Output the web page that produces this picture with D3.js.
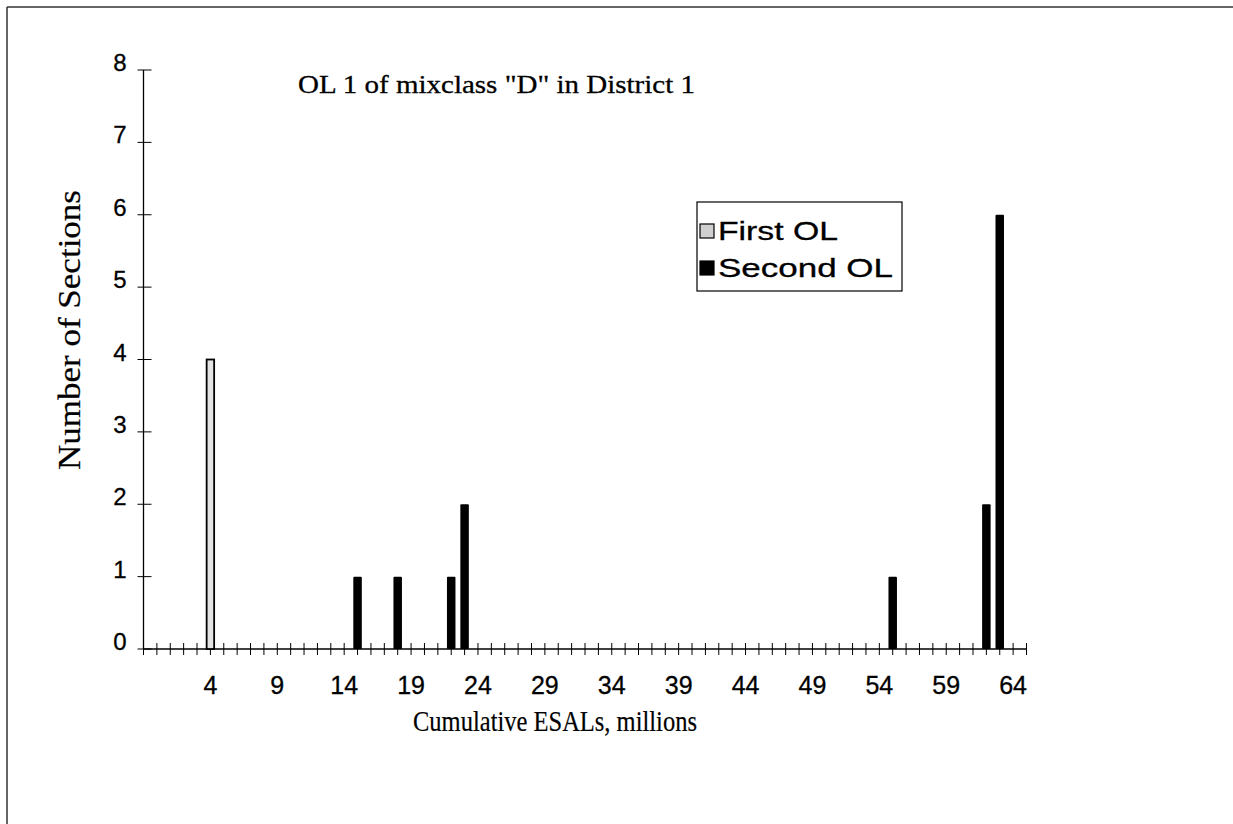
<!DOCTYPE html>
<html><head><meta charset="utf-8">
<script src="https://cdn.jsdelivr.net/npm/d3@7"></script>
<style>body{margin:0;background:#fff}svg{display:block}</style>
</head><body>
<script>
const firstOL = [{x: 4, v: 4}];
const secondOL = [{x: 15, v: 1}, {x: 18, v: 1}, {x: 22, v: 1}, {x: 23, v: 2}, {x: 55, v: 1}, {x: 62, v: 2}, {x: 63, v: 6}];
const xTickLabels = [4, 9, 14, 19, 24, 29, 34, 39, 44, 49, 54, 59, 64];
const yTicks = [0, 1, 2, 3, 4, 5, 6, 7, 8];
const seriesNames = ["First OL", "Second OL"];
const titleText = 'OL 1 of mixclass "D" in District 1';
const xTitle = "Cumulative ESALs, millions";
const yTitle = "Number of Sections";

const W = 1233, H = 824;
const svg = d3.select("body").append("svg").attr("width", W).attr("height", H);

svg.append("line").attr("x1", 7).attr("x2", W).attr("y1", 7).attr("y2", 7).attr("stroke", "#333").attr("stroke-width", 1.5);
svg.append("line").attr("x1", 7).attr("x2", 7).attr("y1", 7).attr("y2", H).attr("stroke", "#333").attr("stroke-width", 1.5);

const x = d3.scaleLinear().domain([-1, 65]).range([143.5, 1026.5]);
const y = d3.scaleLinear().domain([0, 8]).range([649, 70]);
const sans = "Liberation Sans, Arial, sans-serif";
const serif = "Liberation Serif, Times New Roman, serif";

// x axis line + ticks
const xg = svg.append("g");
xg.append("line").attr("x1", x(-1)).attr("x2", x(65)).attr("y1", y(0)).attr("y2", y(0)).attr("stroke", "#000").attr("stroke-width", 1.3);
xg.selectAll("line.t").data(d3.range(-1, 66)).join("line").attr("class", "t")
  .attr("x1", d => x(d)).attr("x2", d => x(d)).attr("y1", y(0) - 6).attr("y2", y(0) + 6)
  .attr("stroke", "#000").attr("stroke-width", 1);
xg.selectAll("text").data(xTickLabels).join("text")
  .attr("x", d => x(d)).attr("y", 694).attr("text-anchor", "middle")
  .attr("font-family", sans).attr("font-size", 25).attr("stroke", "#000").attr("stroke-width", 0.3).text(d => d);

// y axis
const yg = svg.append("g");
yg.append("line").attr("x1", x(-1)).attr("x2", x(-1)).attr("y1", y(0)).attr("y2", y(8)).attr("stroke", "#000").attr("stroke-width", 1.3);
yg.selectAll("line.t").data(yTicks).join("line").attr("class", "t")
  .attr("x1", x(-1) - 6).attr("x2", x(-1) + 8).attr("y1", d => y(d)).attr("y2", d => y(d))
  .attr("stroke", "#000").attr("stroke-width", 1);
yg.selectAll("text").data(yTicks).join("text")
  .attr("x", 120).attr("y", d => y(d) + 1).attr("text-anchor", "middle")
  .attr("font-family", sans).attr("font-size", 24).attr("stroke", "#000").attr("stroke-width", 0.3).text(d => d);

// bars
const bw = 7.5;
svg.selectAll("rect.first").data(firstOL).join("rect").attr("class", "first")
  .attr("x", d => x(d.x) - bw / 2).attr("y", d => y(d.v)).attr("width", bw).attr("height", d => y(0) - y(d.v))
  .attr("fill", "#e4e4e4").attr("stroke", "#000").attr("stroke-width", 1.8);
svg.selectAll("rect.second").data(secondOL).join("rect").attr("class", "second")
  .attr("x", d => x(d.x) - bw / 2 - 0.5).attr("y", d => y(d.v)).attr("width", bw + 1).attr("height", d => y(0) - y(d.v))
  .attr("fill", "#000").attr("rx", 1);

// title
svg.append("text").attr("x", 298).attr("y", 93).attr("font-family", serif)
  .attr("font-size", 26).attr("stroke", "#000").attr("stroke-width", 0.3)
  .attr("textLength", 397).attr("lengthAdjust", "spacingAndGlyphs").text(titleText);

// axis titles
svg.append("text").attr("x", 555).attr("y", 731).attr("text-anchor", "middle")
  .attr("font-family", serif).attr("font-size", 30).attr("stroke", "#000").attr("stroke-width", 0.2)
  .attr("textLength", 284).attr("lengthAdjust", "spacingAndGlyphs").text(xTitle);
svg.append("text").attr("transform", "translate(80,330) rotate(-90)").attr("text-anchor", "middle")
  .attr("font-family", serif).attr("font-size", 31).attr("stroke", "#000").attr("stroke-width", 0.2)
  .attr("textLength", 280).attr("lengthAdjust", "spacingAndGlyphs").text(yTitle);

// legend
const lg = svg.append("g");
lg.append("rect").attr("x", 697).attr("y", 202).attr("width", 205).attr("height", 89)
  .attr("fill", "#fff").attr("stroke", "#000").attr("stroke-width", 1.2);
const swFill = ["#cfcfcf", "#000"];
const legLen = [120, 175];
seriesNames.forEach((n, i) => {
  const cy = 231 + i * 37;
  lg.append("rect").attr("x", 700).attr("y", cy - 7).attr("width", 14).attr("height", 14)
    .attr("fill", swFill[i]).attr("stroke", "#000").attr("stroke-width", 1.2);
  lg.append("text").attr("x", 718).attr("y", cy + 9).attr("font-family", sans)
    .attr("font-size", 25).attr("stroke", "#000").attr("stroke-width", 0.3)
    .attr("textLength", legLen[i]).attr("lengthAdjust", "spacingAndGlyphs").text(n);
});
</script>
</body></html>
